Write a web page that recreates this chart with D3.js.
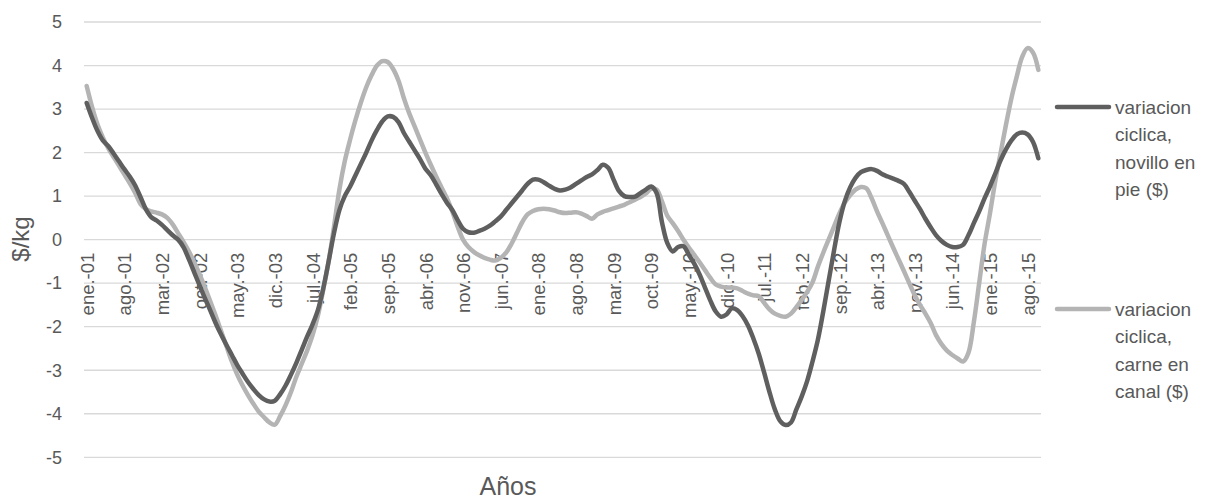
<!DOCTYPE html>
<html>
<head>
<meta charset="utf-8">
<script src="https://cdn.jsdelivr.net/npm/d3@7"></script>
<style>
  html, body { margin: 0; padding: 0; background: #fff; }
  svg text { font-family: "Liberation Sans", Arial, sans-serif; fill: #595959; }
</style>
</head>
<body>
<svg id="chart" width="1208" height="499"></svg>
<script>
// Monthly series, January 2001 to October 2015 ($/kg)
const startYear = 2001;
const monthAbbr = ["ene.", "feb.", "mar.", "abr.", "may.", "jun.", "jul.", "ago.", "sep.", "oct.", "nov.", "dic."];
const monthCount = 178;

const novilloEnPie = [
  3.14, 2.8, 2.5, 2.28, 2.15, 1.98, 1.8, 1.62, 1.45, 1.25,
  0.98, 0.7, 0.52, 0.44, 0.34, 0.22, 0.1, 0.0, -0.17, -0.45,
  -0.75, -1.05, -1.35, -1.63, -1.92, -2.18, -2.42, -2.65, -2.88, -3.08,
  -3.27, -3.43, -3.57, -3.67, -3.72, -3.7, -3.55, -3.35, -3.1, -2.83,
  -2.53, -2.23, -1.95, -1.62, -1.12, -0.5, 0.15, 0.68, 1.0, 1.22,
  1.48, 1.74, 2.0, 2.28, 2.52, 2.72, 2.83, 2.82, 2.7, 2.45,
  2.25, 2.05, 1.85, 1.63, 1.48, 1.27, 1.05, 0.85, 0.68, 0.45,
  0.25, 0.17, 0.16, 0.2, 0.25, 0.32, 0.42, 0.53, 0.68, 0.83,
  0.98, 1.13, 1.28, 1.38, 1.38, 1.32, 1.24, 1.17, 1.13, 1.15,
  1.2, 1.28, 1.36, 1.44, 1.5, 1.6, 1.72, 1.65, 1.38, 1.12,
  1.0, 0.98, 0.99, 1.07, 1.15, 1.22, 1.07, 0.4, -0.08, -0.27,
  -0.17, -0.15, -0.35, -0.55, -0.8, -1.1, -1.4, -1.65, -1.77, -1.72,
  -1.58, -1.62, -1.76, -1.97, -2.27, -2.62, -3.05, -3.5, -3.9, -4.17,
  -4.26, -4.2, -3.9, -3.6, -3.25, -2.8, -2.3, -1.65, -0.95, -0.25,
  0.4, 0.88, 1.2, 1.42, 1.55, 1.6, 1.62, 1.58, 1.5, 1.45,
  1.4, 1.35, 1.28, 1.1, 0.9, 0.7, 0.48, 0.28, 0.1, -0.03,
  -0.12, -0.17, -0.17, -0.12, 0.1, 0.38, 0.65, 0.95, 1.22, 1.52,
  1.83, 2.08, 2.28, 2.42, 2.46, 2.42, 2.25, 1.87
];

const carneEnCanal = [
  3.53, 3.05, 2.65, 2.35, 2.1, 1.9, 1.7, 1.5, 1.3, 1.08,
  0.82, 0.7, 0.65, 0.62, 0.58, 0.5, 0.35, 0.15, -0.05, -0.27,
  -0.52, -0.8, -1.1, -1.42, -1.75, -2.1, -2.45, -2.8, -3.1, -3.35,
  -3.57, -3.77, -3.95, -4.08, -4.2, -4.25, -4.05, -3.8, -3.5, -3.15,
  -2.85, -2.55, -2.2, -1.75, -1.15, -0.5, 0.3, 1.15, 1.8, 2.3,
  2.75, 3.15, 3.5, 3.78, 4.0, 4.1, 4.08, 3.92, 3.65, 3.25,
  2.9, 2.6, 2.3, 2.0, 1.72, 1.45, 1.2, 0.95, 0.65, 0.3,
  0.0, -0.17, -0.28, -0.36, -0.42, -0.46, -0.48, -0.42, -0.3, -0.1,
  0.15, 0.4, 0.58, 0.66, 0.7, 0.71, 0.7, 0.67, 0.63, 0.61,
  0.62, 0.63, 0.6, 0.54, 0.48, 0.58, 0.64, 0.68, 0.72, 0.76,
  0.8, 0.86, 0.92, 0.98, 1.06, 1.17, 1.15, 0.88, 0.55, 0.38,
  0.2, 0.0, -0.18, -0.35, -0.52, -0.7, -0.88, -1.03, -1.08, -1.1,
  -1.1, -1.12, -1.18, -1.24, -1.28, -1.3, -1.45, -1.6, -1.7, -1.75,
  -1.77, -1.7, -1.55, -1.38, -1.2, -0.98, -0.62, -0.3, 0.0, 0.3,
  0.6, 0.85, 1.02, 1.15, 1.21, 1.18, 0.95, 0.65, 0.38, 0.1,
  -0.18, -0.45, -0.72, -1.0, -1.27, -1.5, -1.7, -1.92, -2.2, -2.4,
  -2.55, -2.65, -2.73, -2.8, -2.6, -1.9, -1.0, -0.1, 0.6, 1.35,
  2.0, 2.65, 3.25, 3.75, 4.2, 4.4, 4.3, 3.9
];

const yTicks = [5, 4, 3, 2, 1, 0, -1, -2, -3, -4, -5];
const tickLabels = [
  "ene.-01", "ago.-01", "mar.-02", "oct.-02", "may.-03", "dic.-03", "jul.-04",
  "feb.-05", "sep.-05", "abr.-06", "nov.-06", "jun.-07", "ene.-08", "ago.-08",
  "mar.-09", "oct.-09", "may.-10", "dic.-10", "jul.-11", "feb.-12", "sep.-12",
  "abr.-13", "nov.-13", "jun.-14", "ene.-15", "ago.-15"
];

const seriesNames = [
  ["variacion", "ciclica,", "novillo en", "pie ($)"],
  ["variacion", "ciclica,", "carne en", "canal ($)"]
];
const seriesColors = ["#5f5f5f", "#b4b4b4"];

// Month categories such as "ene.-01"
const categories = d3.range(monthCount).map(i => {
  const yr = startYear + Math.floor(i / 12);
  return monthAbbr[i % 12] + "-" + String(yr % 100).padStart(2, "0");
});

const svg = d3.select("#chart");
const plot = { left: 84, right: 1041, top: 22, bottom: 457.3 };

const x = d3.scalePoint().domain(categories).range([plot.left, plot.right]).padding(0.5);
const y = d3.scaleLinear().domain([-5, 5]).range([plot.bottom, plot.top]);

// Horizontal gridlines
svg.append("g")
  .selectAll("line")
  .data(yTicks)
  .join("line")
  .attr("x1", plot.left).attr("x2", plot.right)
  .attr("y1", d => y(d)).attr("y2", d => y(d))
  .attr("stroke", "#d9d9d9").attr("stroke-width", 1.3);

// Y axis labels (plain hyphen for negatives)
const yAxis = svg.append("g")
  .attr("transform", `translate(${plot.left - 22},0)`)
  .call(d3.axisLeft(y).tickValues(yTicks).tickSize(0).tickPadding(0).tickFormat(d => String(d)));
yAxis.select(".domain").remove();
yAxis.selectAll("text")
  .style("font-family", "'Liberation Sans', Arial, sans-serif")
  .style("font-size", "18px")
  .attr("fill", "#595959");

// Category axis crossing at zero, labels rotated
const xAxis = svg.append("g")
  .attr("transform", `translate(0,${y(0)})`)
  .call(d3.axisBottom(x).tickValues(tickLabels).tickSize(0).tickPadding(0));
xAxis.select(".domain").remove();
xAxis.selectAll("text")
  .attr("transform", "rotate(-90)")
  .attr("x", -13)
  .attr("y", 0)
  .attr("dy", "0.36em")
  .style("text-anchor", "end")
  .style("font-family", "'Liberation Sans', Arial, sans-serif")
  .style("font-size", "18.5px")
  .attr("fill", "#595959");

// Series lines
const line = d3.line()
  .x((d, i) => x(categories[i]))
  .y(d => y(d))
  .curve(d3.curveCatmullRom.alpha(0.5));

[carneEnCanal, novilloEnPie].forEach((values, k) => {
  svg.append("path")
    .datum(values)
    .attr("fill", "none")
    .attr("stroke", k === 0 ? seriesColors[1] : seriesColors[0])
    .attr("stroke-width", 4.5)
    .attr("stroke-linejoin", "round")
    .attr("stroke-linecap", "round")
    .attr("d", line);
});

// Axis titles
svg.append("text")
  .attr("transform", `translate(29,${239}) rotate(-90)`)
  .attr("text-anchor", "middle")
  .style("font-size", "24px")
  .text("$/kg");

svg.append("text")
  .attr("x", 508).attr("y", 495)
  .attr("text-anchor", "middle")
  .style("font-size", "25px")
  .text("Años");

// Legend
const legendY = [107, 309];
seriesNames.forEach((lines, k) => {
  const g = svg.append("g").attr("transform", `translate(0,${legendY[k]})`);
  g.append("line")
    .attr("x1", 1057).attr("x2", 1109)
    .attr("y1", 0).attr("y2", 0)
    .attr("stroke", seriesColors[k]).attr("stroke-width", 4.5)
    .attr("stroke-linecap", "round");
  const t = g.append("text")
    .attr("x", 1115).attr("y", 0)
    .style("font-size", "19px");
  lines.forEach((s, j) => {
    t.append("tspan")
      .attr("x", 1115)
      .attr("y", j * 27.5)
      .attr("dy", "0.36em")
      .text(s);
  });
});
</script>
</body>
</html>
